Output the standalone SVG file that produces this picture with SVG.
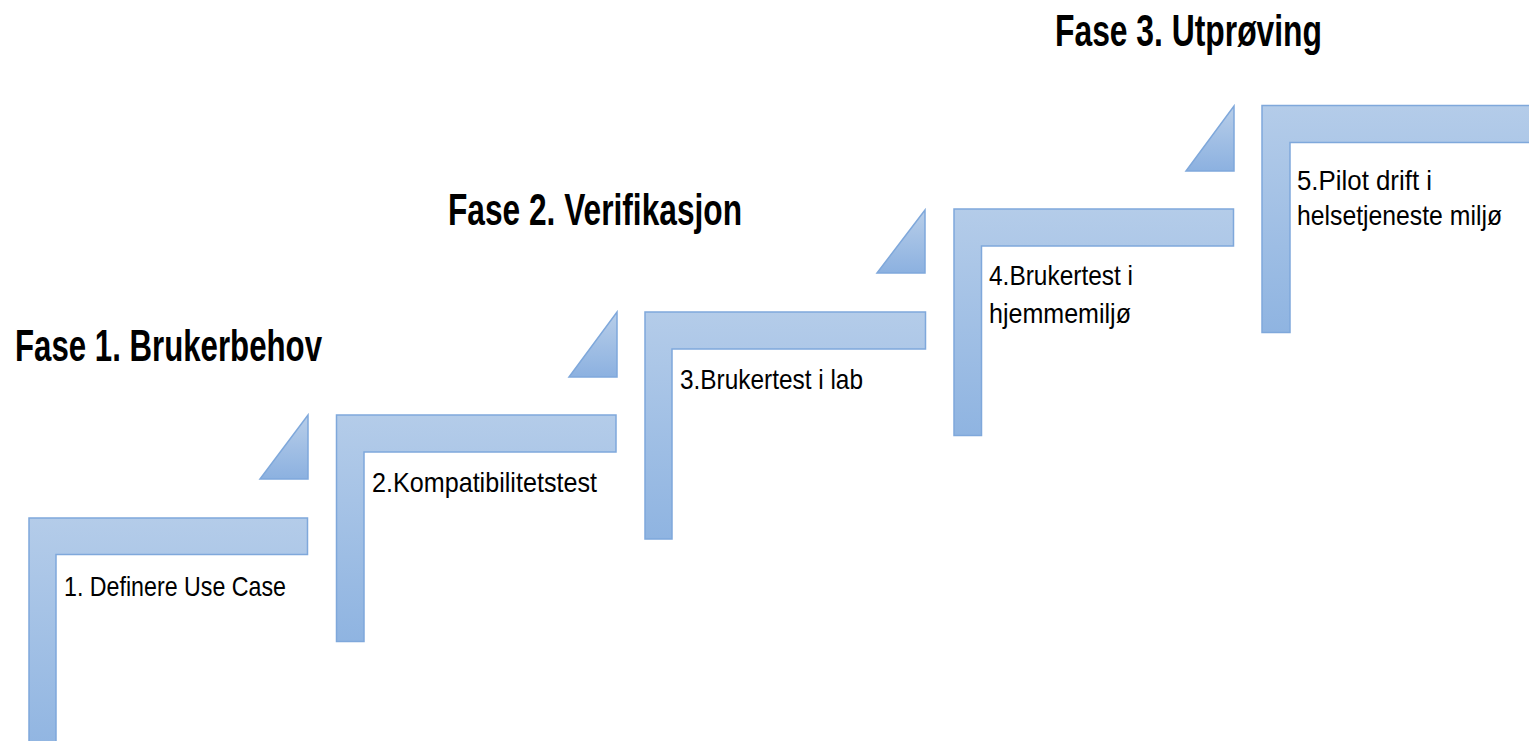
<svg xmlns="http://www.w3.org/2000/svg" width="1529" height="741" viewBox="0 0 1529 741">
  <defs>
    <linearGradient id="gFrame" x1="0" y1="0" x2="0" y2="1">
      <stop offset="0" stop-color="#b4cce9"/>
      <stop offset="1" stop-color="#8fb4e1"/>
    </linearGradient>
    <linearGradient id="gTri" x1="0" y1="0" x2="0" y2="1">
      <stop offset="0" stop-color="#b8cee9"/>
      <stop offset="1" stop-color="#8cb1e0"/>
    </linearGradient>
  </defs>
  <style>
    .frame { fill: url(#gFrame); stroke: #7fa8db; stroke-width: 1.5; }
    .tri { fill: url(#gTri); stroke: #7fa8db; stroke-width: 1.5; }
    .title { font-family: "Liberation Sans", Arial, sans-serif; font-weight: bold; font-size: 44px; fill: #000; }
    .label { font-family: "Liberation Sans", Arial, sans-serif; font-size: 28px; fill: #000; }
  </style>
  <rect x="0" y="0" width="1529" height="741" fill="#ffffff"/>

  <g id="titles">
    <text class="title" x="15" y="361" textLength="307" lengthAdjust="spacingAndGlyphs">Fase 1. Brukerbehov</text>
    <text class="title" x="448" y="225" textLength="294" lengthAdjust="spacingAndGlyphs">Fase 2. Verifikasjon</text>
    <text class="title" x="1055" y="46" textLength="267" lengthAdjust="spacingAndGlyphs">Fase 3. Utprøving</text>
  </g>

  <g id="step1">
    <path class="frame" d="M29,518 H307.5 V554.5 H56 V760 H29 Z"/>
    <text class="label" x="64" y="596" textLength="222" lengthAdjust="spacingAndGlyphs">1. Definere Use Case</text>
  </g>
  <g id="step2">
    <path class="frame" d="M336.5,415 H616 V452 H364 V641.5 H336.5 Z"/>
    <text class="label" x="372" y="491.5" textLength="225" lengthAdjust="spacingAndGlyphs">2.Kompatibilitetstest</text>
  </g>
  <g id="step3">
    <path class="frame" d="M645,312 H925.5 V349 H672 V539 H645 Z"/>
    <text class="label" x="680" y="389" textLength="183" lengthAdjust="spacingAndGlyphs">3.Brukertest i lab</text>
  </g>
  <g id="step4">
    <path class="frame" d="M954,209 H1233.5 V246 H981.5 V435.5 H954 Z"/>
    <text class="label" x="989" y="285" textLength="144" lengthAdjust="spacingAndGlyphs">4.Brukertest i</text>
    <text class="label" x="989" y="323" textLength="142" lengthAdjust="spacingAndGlyphs">hjemmemiljø</text>
  </g>
  <g id="step5">
    <path class="frame" d="M1262,105.5 H1545 V142.5 H1290 V332.5 H1262 Z"/>
    <text class="label" x="1297" y="190" textLength="135" lengthAdjust="spacingAndGlyphs">5.Pilot drift i</text>
    <text class="label" x="1297" y="225" textLength="205" lengthAdjust="spacingAndGlyphs">helsetjeneste miljø</text>
  </g>

  <g id="connectors">
    <path class="tri" d="M308,415 L308,479 L260,479 Z"/>
    <path class="tri" d="M617,312 L617,377 L569,377 Z"/>
    <path class="tri" d="M925,210 L925,273 L877,273 Z"/>
    <path class="tri" d="M1234,106 L1234,171 L1186,171 Z"/>
  </g>
</svg>
